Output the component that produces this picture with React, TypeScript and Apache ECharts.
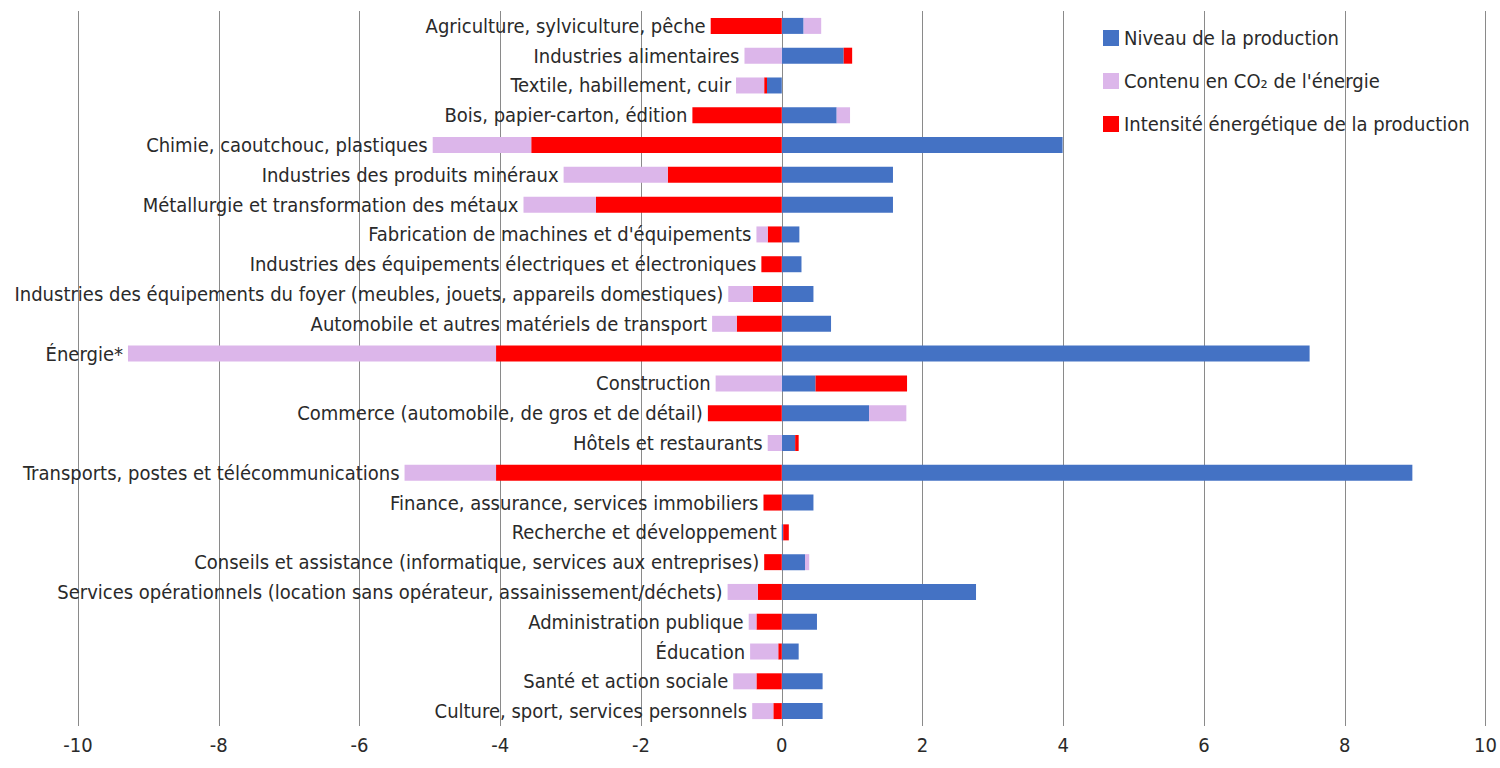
import React, { useEffect, useRef } from "react";
import * as echarts from "echarts";

const categories = [
  "Agriculture, sylviculture, pêche",
  "Industries alimentaires",
  "Textile, habillement, cuir",
  "Bois, papier-carton, édition",
  "Chimie, caoutchouc, plastiques",
  "Industries des produits minéraux",
  "Métallurgie et transformation des métaux",
  "Fabrication de machines et d'équipements",
  "Industries des équipements électriques et électroniques",
  "Industries des équipements du foyer (meubles, jouets, appareils domestiques)",
  "Automobile et autres matériels de transport",
  "Énergie*",
  "Construction",
  "Commerce (automobile, de gros et de détail)",
  "Hôtels et restaurants",
  "Transports, postes et télécommunications",
  "Finance, assurance, services immobiliers",
  "Recherche et développement",
  "Conseils et assistance (informatique, services aux entreprises)",
  "Services opérationnels (location sans opérateur, assainissement/déchets)",
  "Administration publique",
  "Éducation",
  "Santé et action sociale",
  "Culture, sport, services personnels",
];

const niveau = [0.31, 0.88, -0.21, 0.78, 3.99, 1.58, 1.58, 0.25, 0.28, 0.45, 0.7, 7.5, 0.48, 1.24, 0.19, 8.96, 0.45, 0.02, 0.33, 2.76, 0.5, 0.24, 0.58, 0.58];
const intensite = [-1.01, 0.12, -0.04, -1.27, -3.56, -1.62, -2.64, -0.2, -0.29, -0.41, -0.64, -4.06, 1.3, -1.05, 0.05, -4.06, -0.26, 0.08, -0.25, -0.34, -0.36, -0.05, -0.36, -0.12];
const contenu = [0.25, -0.53, -0.4, 0.19, -1.4, -1.48, -1.03, -0.16, 0, -0.35, -0.35, -5.23, -0.94, 0.53, -0.2, -1.3, 0, 0, 0.06, -0.43, -0.11, -0.4, -0.33, -0.3];

const xTicks = [-10, 10, 2];

const seriesNames = [
  "Niveau de la production",
  "Contenu en CO₂ de l'énergie",
  "Intensité énergétique de la production",
];

const FONT = "'Liberation Sans Narrow', 'DejaVu Sans Condensed', 'Liberation Sans', sans-serif";
const TXT = "#2a2a2a";

export default function App() {
  const ref = useRef<HTMLDivElement>(null);
  useEffect(() => {
    if (!ref.current) return;
    const chart = echarts.init(ref.current, null, { renderer: "svg" });
    const neg = (v: number) => (v < 0 ? v : 0);
    const leftEnds = categories.map((c, i) => [
      neg(niveau[i]) + neg(intensite[i]) + neg(contenu[i]),
      c,
    ]);
    chart.setOption({
      animation: false,
      textStyle: { fontFamily: FONT },
      grid: { left: 78, right: 14, top: 11, bottom: 42, containLabel: false },
      legend: {
        data: seriesNames,
        orient: "vertical",
        left: 1098,
        top: 23,
        itemWidth: 16,
        itemHeight: 16,
        itemGap: 23,
        icon: "rect",
        textStyle: { fontSize: 20, color: TXT, fontFamily: FONT },
      },
      xAxis: {
        type: "value",
        min: xTicks[0],
        max: xTicks[1],
        interval: xTicks[2],
        axisLine: { show: false },
        axisTick: { show: false },
        axisLabel: { fontSize: 20, color: TXT, margin: 9, fontFamily: FONT },
        splitLine: { show: true, lineStyle: { color: "#8a8a8a", width: 1 } },
      },
      yAxis: {
        type: "category",
        data: categories,
        inverse: true,
        axisLine: { show: false },
        axisTick: { show: false },
        axisLabel: { show: false },
        splitLine: { show: false },
      },
      series: [
        {
          name: seriesNames[0],
          type: "bar",
          stack: "t",
          barWidth: 16,
          data: niveau,
          itemStyle: { color: "#4472c4" },
        },
        {
          name: seriesNames[2],
          type: "bar",
          stack: "t",
          barWidth: 16,
          data: intensite,
          itemStyle: { color: "#ff0000" },
        },
        {
          name: seriesNames[1],
          type: "bar",
          stack: "t",
          barWidth: 16,
          data: contenu,
          itemStyle: { color: "#dcb6ea" },
        },
        {
          name: "labels",
          type: "scatter",
          symbolSize: 0,
          data: leftEnds,
          silent: true,
          itemStyle: { opacity: 1, color: "rgba(0,0,0,0)" },
          label: {
            show: true,
            position: "left",
            distance: 5,
            opacity: 1,
            formatter: (p: any) => p.value[1],
            fontSize: 20,
            color: TXT,
            fontFamily: FONT,
          },
        },
      ],
    });
    return () => chart.dispose();
  }, []);
  return (
    <div
      ref={ref}
      style={{ position: "fixed", left: 0, top: 0, width: 1500, height: 768, background: "#fff" }}
    />
  );
}
